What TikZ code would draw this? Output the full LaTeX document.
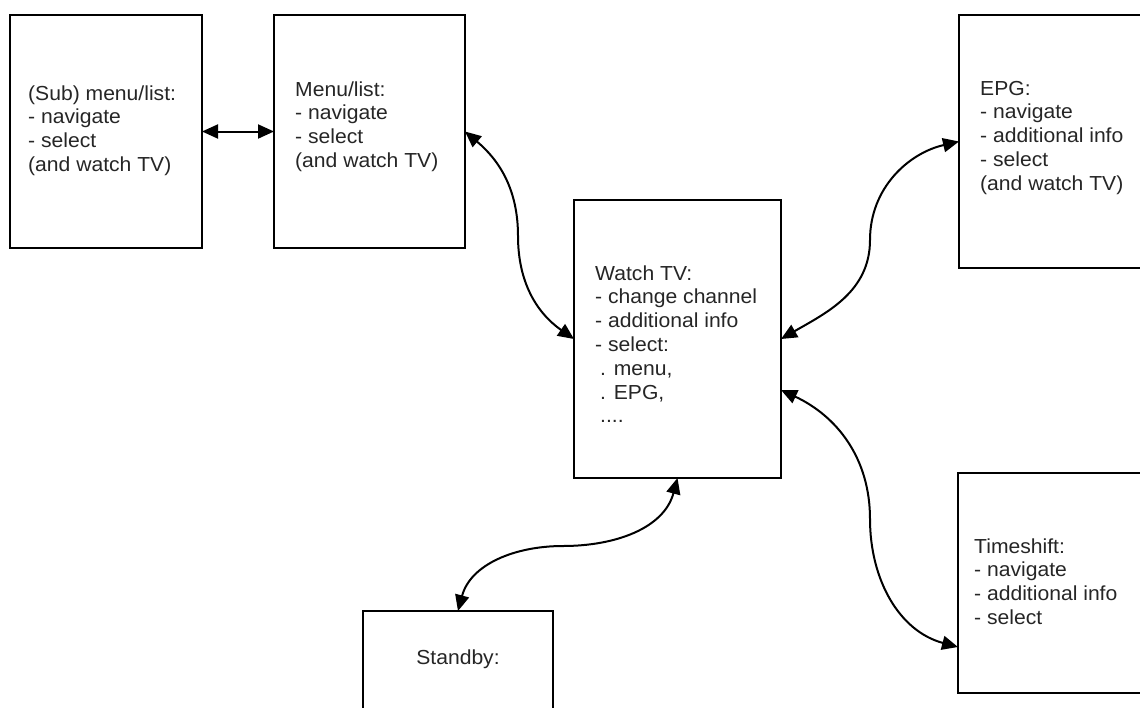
\documentclass[tikz,border=0pt]{standalone}
\usepackage{fontspec}
\setmainfont{Liberation Sans}[FakeStretch=1.04]
\usetikzlibrary{arrows.meta}
\tikzset{
  box/.style={draw=black, line width=1.4pt, rectangle, inner sep=0pt, outer sep=0pt, anchor=north west},
  lbl/.style={anchor=north west, inner sep=0pt, align=left, font=\fontsize{20.3}{23.8}\selectfont, text=black!85},
  conn/.style={line width=2pt, {Triangle[length=16pt,width=14pt]}-{Triangle[length=16pt,width=14pt]}},
}
\begin{document}
\begin{tikzpicture}[x=1pt,y=-1pt]
\useasboundingbox (0,0) rectangle (1140,707);
\fill[white] (0,0) rectangle (1140,707);
\clip (0,0) rectangle (1140,707);
% boxes
\node[box, minimum width=192pt, minimum height=233pt] (sub) at (10,15) {};
\node[box, minimum width=191pt, minimum height=233pt] (menu) at (274,15) {};
\node[box, minimum width=190pt, minimum height=253pt] (epg) at (959,15) {};
\node[box, minimum width=207pt, minimum height=278pt] (watch) at (574,200) {};
\node[box, minimum width=190pt, minimum height=220pt] (time) at (958,473) {};
\node[box, minimum width=190pt, minimum height=120pt] (stand) at (363,611) {};
% texts
\node[lbl] (subtxt) at (28,83.3) {\strut(Sub) menu/list:\\- navigate\\- select\\(and watch TV)};
\node[lbl] (menutxt) at (295,79.3) {\strut Menu/list:\\- navigate\\- select\\(and watch TV)};
\node[lbl] (epgtxt) at (980,78.3) {\strut EPG:\\- navigate\\- additional info\\- select\\(and watch TV)};
\node[lbl] (watchtxt) at (595,263.3) {\strut Watch TV:\\- change channel\\- additional info\\- select:\\\hspace*{5pt}. menu,\\\hspace*{5pt}. EPG,\\\hspace*{5pt}....};
\node[lbl] (timetxt) at (974,536.3) {\strut Timeshift:\\- navigate\\- additional info\\- select};
\node[lbl, anchor=base] (standtxt) at (458,664) {Standby:};
% midpoints
\coordinate (m1) at (518,236);
\coordinate (m2) at (870,240);
\coordinate (m3) at (870,519);
\coordinate (m4) at (563,546);
% connectors
\draw[conn] (sub.east) -- (menu.west);
\draw[conn] (menu.east) to[out=-40,in=90] (m1) to[out=-90,in=145] (watch.west);
\draw[conn] (watch.east) to[out=30,in=-90] (m2) to[out=90,in=193] (epg.west);
\draw[conn] ([yshift=-51pt]watch.east) to[out=-25,in=90] (m3) to[out=-90,in=165] ([yshift=-64pt]time.west);
\draw[conn] (watch.south) to[out=-105,in=0] (m4) to[out=180,in=75] (stand.north);
\end{tikzpicture}
\end{document}
